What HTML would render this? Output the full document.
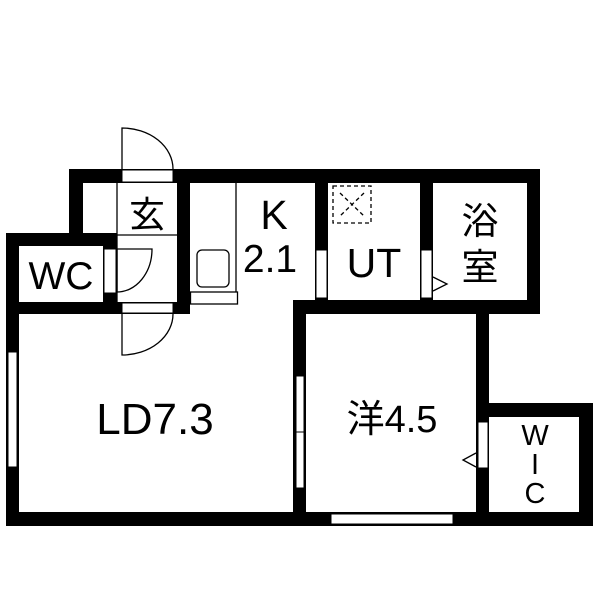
<!DOCTYPE html>
<html><head><meta charset="utf-8"><style>html,body{margin:0;padding:0;background:#fff}svg{display:block}</style></head>
<body>
<svg width="600" height="600" viewBox="0 0 600 600" xmlns="http://www.w3.org/2000/svg">
<rect width="600" height="600" fill="#fff"/>
<g fill="#000">
<rect x="69" y="169" width="471" height="14"/>
<rect x="69" y="169" width="14" height="77"/>
<rect x="6" y="233" width="111" height="13"/>
<rect x="6" y="233" width="13" height="293"/>
<rect x="103" y="233" width="14" height="81"/>
<rect x="6" y="302" width="184" height="12"/>
<rect x="177" y="169" width="13" height="145"/>
<rect x="315" y="169" width="13" height="133"/>
<rect x="420" y="169" width="13" height="133"/>
<rect x="527" y="169" width="13" height="145"/>
<rect x="293" y="300" width="247" height="14"/>
<rect x="293" y="300" width="13" height="226"/>
<rect x="476" y="300" width="13" height="226"/>
<rect x="476" y="403" width="117" height="14"/>
<rect x="579" y="403" width="14" height="123"/>
<rect x="6" y="512" width="587" height="14"/>
</g>
<g fill="#fff" stroke="#000" stroke-width="1">
<rect x="122" y="170" width="51" height="12"/>
<rect x="122" y="303" width="51" height="10"/>
<rect x="104" y="249" width="12" height="44"/>
<rect x="316" y="250" width="11" height="48"/>
<rect x="421" y="250" width="11" height="48"/>
<rect x="8" y="352" width="9" height="115"/>
<rect x="296" y="376" width="8" height="56"/>
<rect x="296" y="432" width="8" height="56"/>
<rect x="478" y="422" width="10" height="46"/>
<rect x="331" y="514" width="122" height="10"/>
</g>
<g fill="none" stroke="#000" stroke-width="1.3">
<path d="M122 169 V128 A51 41 0 0 1 173 169"/>
<path d="M122 314 V355 A51 41 0 0 0 173 314"/>
<path d="M117 292 V249 H152 A35 43 0 0 1 117 292"/>
<line x1="117" y1="183" x2="117" y2="302"/>
<line x1="117" y1="235" x2="177" y2="235"/>
<line x1="236" y1="183" x2="236" y2="292"/>
<rect x="190.5" y="292" width="47" height="12"/>
<rect x="197" y="250" width="32" height="37" rx="5"/>
<path d="M433 277 L447 284 L433 291"/>
<path d="M476 453 L463 460 L476 467"/>
<rect x="333" y="186" width="38" height="37" stroke-dasharray="4,3"/>
<path d="M340 193 L364 216 M364 193 L340 216" stroke-dasharray="4,3"/>
</g>
<g font-family="'Liberation Sans','Noto Sans CJK JP',sans-serif" fill="#000" text-anchor="middle">
<text x="147" y="227" font-size="36">玄</text>
<text x="61" y="289" font-size="39">WC</text>
<text x="274" y="229" font-size="41">K</text>
<text x="270" y="272" font-size="39">2.1</text>
<text x="374" y="277" font-size="41">UT</text>
<text x="480" y="234" font-size="37">浴</text>
<text x="480" y="280" font-size="37">室</text>
<text x="155" y="434" font-size="44">LD7.3</text>
<text x="392" y="432" font-size="38">洋4.5</text>
<text x="535" y="445" font-size="29">W</text>
<text x="535" y="474" font-size="29">I</text>
<text x="535" y="503" font-size="29">C</text>
</g>
</svg>
</body></html>
